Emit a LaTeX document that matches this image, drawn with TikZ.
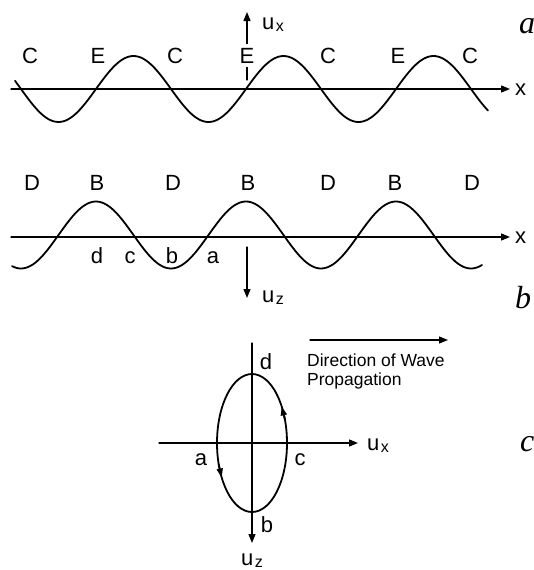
\documentclass[tikz,border=0pt]{standalone}
\usepackage{fontspec}
\setmainfont{Liberation Sans}
\newfontfamily\panelfont{Liberation Serif}
\usetikzlibrary{arrows.meta,calc}
\newcommand{\lowsub}[1]{\kern1.5pt\raisebox{-2pt}{\fontsize{16}{16}\selectfont #1}}

\begin{document}
\begin{tikzpicture}[x=1pt,y=-1pt, line cap=round, line join=round,
    axis/.style={line width=1.3pt, -{Triangle[length=9pt,width=7pt]}},
    wave/.style={line width=1.8pt},
    turn/.style={line width=1.8pt, -{Triangle[length=9pt,width=6pt]}},
    lbl/.style={font=\fontsize{22}{24}\selectfont, inner sep=1pt, anchor=base},
    small/.style={font=\fontsize{17.5}{19}\selectfont, align=left, inner sep=0pt},
    panel/.style={font=\fontsize{32}{32}\selectfont\panelfont\itshape, inner sep=0pt, anchor=base west}]
    \useasboundingbox (0,0) rectangle (534,570);

    % a
    \coordinate (xa0) at (11,89);  \coordinate (xa1) at (510,89);
    \coordinate (ua0) at (247,80); \coordinate (ua1) at (247,12);
    \draw[axis] (xa0) -- (xa1);
    \draw[axis] (ua0) -- (ua1);
    \draw[wave] plot[domain=15:488, samples=200] (\x, {89+33*sin((\x-21)*2.4)});
    \foreach \t/\xx [count=\i] in {C/30, E/98, C/175, E/247, C/328, E/398, C/470}
        \node[lbl, fill=white, inner ysep=4pt] (la\i) at (\xx,63) {\t};
    \node[lbl, anchor=base west] (xla) at (514,95) {x};
    \node[lbl, anchor=base west] (uxa) at (261,29) {u\lowsub{x}};
    \node[panel] (pa) at (519,33) {a};

    % b
    \coordinate (xb0) at (11,237);  \coordinate (xb1) at (510,237);
    \coordinate (ub0) at (247,247); \coordinate (ub1) at (247,298);
    \draw[axis] (xb0) -- (xb1);
    \draw[axis] (ub0) -- (ub1);
    \draw[wave] plot[domain=12:482, samples=200] (\x, {235-33.5*sin((\x-58.5)*2.4)});
    \foreach \t/\xx [count=\i] in {D/32, B/97, D/173, B/248, D/328, B/395, D/472}
        \node[lbl] (lb\i) at (\xx,190) {\t};
    \foreach \t/\xx in {d/97, c/130, b/172, a/213}
        \node[lbl] (pt\t) at (\xx,263) {\t};
    \node[lbl, anchor=base west] (xlb) at (514,243) {x};
    \node[lbl, anchor=base west] (uzb) at (261,302) {u\lowsub{z}};
    \node[panel] (pb) at (515,308) {b};

    % c
    \coordinate (oc) at (252,443);
    \coordinate (xc0) at (159,443); \coordinate (xc1) at (358,443);
    \coordinate (zc0) at (252,343); \coordinate (zc1) at (252,543);
    \coordinate (dw0) at (310,340); \coordinate (dw1) at (448,340);
    \coordinate (tr0) at ($(oc)+(340:35 and 69)$); \coordinate (tr1) at ($(oc)+(328:35 and 69)$);
    \coordinate (tl0) at ($(oc)+(162:35 and 69)$); \coordinate (tl1) at ($(oc)+(150:35 and 69)$);
    \draw[axis] (xc0) -- (xc1);
    \draw[axis] (zc0) -- (zc1);
    \draw[axis] (dw0) -- (dw1);
    \draw[wave] (oc) ellipse [x radius=35, y radius=69];
    \draw[turn] (tr0) -- (tr1);
    \draw[turn] (tl0) -- (tl1);
    \node[lbl] (cd) at (266,369) {d};
    \node[lbl] (ca) at (201,465) {a};
    \node[lbl] (cc) at (300,465) {c};
    \node[lbl] (cb) at (267,532) {b};
    \node[lbl, anchor=base west] (uxc) at (366,450) {u\lowsub{x}};
    \node[lbl, anchor=base west, inner sep=0pt] (uzc) at (241,565) {u\lowsub{z}};
    \node[small, anchor=north west] (dir) at (307,354) {Direction of Wave\\Propagation};
    \node[panel] (pc) at (520,451) {c};
\end{tikzpicture}
\end{document}
